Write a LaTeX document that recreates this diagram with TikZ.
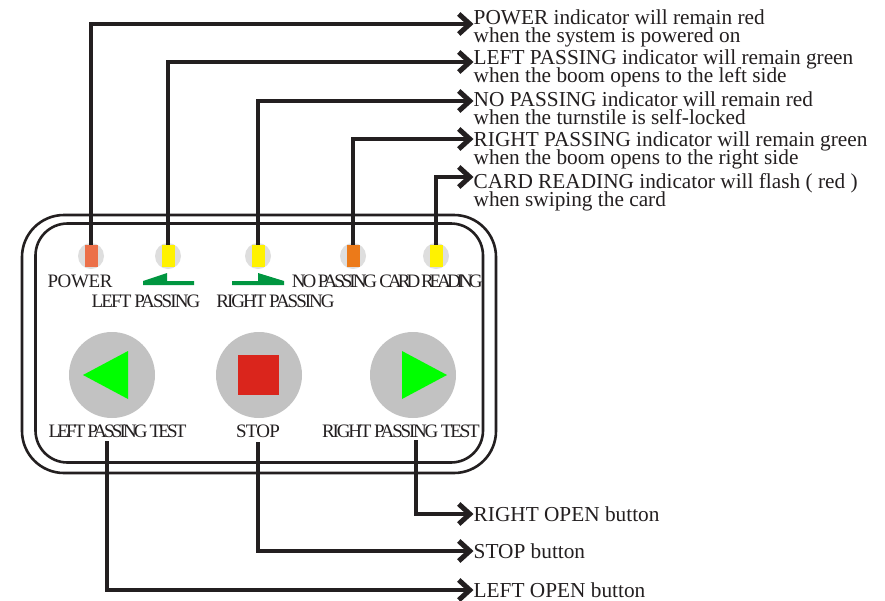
\documentclass[tikz,border=0pt]{standalone}
\usepackage{fontspec}
\setmainfont{Liberation Serif}
\usetikzlibrary{arrows.meta,positioning}
\definecolor{ink}{HTML}{231F20}
\definecolor{ledgray}{HTML}{DEDEDE}
\definecolor{btngray}{HTML}{C2C2C2}
\definecolor{ledred}{HTML}{EC7049}
\definecolor{ledyellow}{HTML}{FFF200}
\definecolor{ledorange}{HTML}{EC7A19}
\definecolor{signgreen}{HTML}{009640}
\definecolor{btnred}{HTML}{DA251C}
\newcommand{\notefont}{\fontsize{21.3}{17.6}\selectfont\setlength{\lineskiplimit}{-30pt}}
\tikzset{
  x=1pt,y=-1pt,
  panel/.style={draw=ink,line width=2.6pt,rounded corners=#1},
  ledbase/.style={circle,fill=ledgray,minimum size=26pt,inner sep=0pt},
  ledbar/.style={fill=#1,minimum width=13pt,minimum height=22pt,inner sep=0pt},
  btn/.style={circle,fill=btngray,minimum size=86pt,inner sep=0pt},
  lbl/.style={text=ink,inner sep=0pt,font={\fontsize{19}{21}\selectfont\addfontfeatures{LetterSpace=#1}}},
  note/.style={text=ink,inner sep=0pt,anchor=north west,align=left,font=\notefont},
  lead/.style={draw=ink,line width=3.2pt,-{Straight Barb[length=11pt,width=20pt,line width=5pt]}},
}
\begin{document}
\begin{tikzpicture}
\useasboundingbox (0,0) rectangle (885,600);
\fill[white] (0,0) rectangle (885,600);
\draw[panel=42pt] (22,215) rectangle (496,473);
\draw[panel=32pt] (35.5,223.5) rectangle (483,462.5);
% LEDs
\node[ledbase] (b1) at (91,256) {};
\node[ledbase] (b2) at (168,256) {};
\node[ledbase] (b3) at (258,256) {};
\node[ledbase] (b4) at (353,256) {};
\node[ledbase] (b5) at (436,256) {};
\node[ledbar=ledred] (l1) at (91,256) {};
\node[ledbar=ledyellow] (l2) at (168,256) {};
\node[ledbar=ledyellow] (l3) at (258,256) {};
\node[ledbar=ledorange] (l4) at (353,256) {};
\node[ledbar=ledyellow] (l5) at (436,256) {};
% green signs
\fill[signgreen] (143,285) -- (143,281) -- (167,273) -- (167,281) -- (194,281) -- (194,285) -- cycle;
\fill[signgreen] (232,285) -- (232,281) -- (258,281) -- (258,273) -- (284,281) -- (284,285) -- cycle;
% indicator labels
\node[lbl=-2] (t1) at (80,281) {POWER};
\node[lbl=-10] (t2) at (146,301) {LEFT PASSING};
\node[lbl=-10.5] (t3) at (275.5,301) {RIGHT PASSING};
\node[lbl=-16] (t4) at (334.5,281) {NO PASSING};
\node[lbl=-21] (t5) at (431,281) {CARD READING};
% buttons
\node[btn] (bl) at (112,375) {};
\node[btn] (bs) at (259,375) {};
\node[btn] (br) at (413,375) {};
\fill[green] (83,375) -- (128,351) -- (128,399) -- cycle;
\fill[btnred] (238,355) rectangle (279,395);
\fill[green] (447,375) -- (402,351) -- (402,399) -- cycle;
\node[lbl=-15] (tl) at (117.5,431) {LEFT PASSING TEST};
\node[lbl=-4] (ts) at (258,431) {STOP};
\node[lbl=-11.5] (tr) at (401,431) {RIGHT PASSING TEST};
% notes
\node[note] (n1) at (473.5,9.5) {POWER indicator will remain red\\when the system is powered on};
\node[note] (n2) at (473.5,49.5) {LEFT PASSING indicator will remain green\\when the boom opens to the left side};
\node[note] (n3) at (473.5,91.5) {NO PASSING indicator will remain red\\when the turnstile is self-locked};
\node[note] (n4) at (473.5,131.5) {RIGHT PASSING indicator will remain green\\when the boom opens to the right side};
\node[note] (n5) at (473.5,173.5) {CARD READING indicator will flash ( red )\\when swiping the card};
\node[note,anchor=west] (n6) at (473.5,514) {RIGHT OPEN button};
\node[note,anchor=west] (n7) at (473.5,551) {STOP button};
\node[note,anchor=west] (n8) at (473.5,590) {LEFT OPEN button};
% leaders
\draw[lead] (l1.north) |- ([yshift=-14.5pt]n1.north west);
\draw[lead] (l2.north) |- ([yshift=-12.5pt]n2.north west);
\draw[lead] (l3.north) |- ([yshift=-9.5pt]n3.north west);
\draw[lead] (l4.north) |- ([yshift=-7.5pt]n4.north west);
\draw[lead] (l5.north) |- ([yshift=-3.5pt]n5.north west);
\coordinate (fr) at (416,440);
\coordinate (fs) at (258,442);
\coordinate (fl) at (107,441);
\draw[lead] (fr) |- (n6.west);
\draw[lead] (fs) |- (n7.west);
\draw[lead] (fl) |- (n8.west);
\end{tikzpicture}
\end{document}
